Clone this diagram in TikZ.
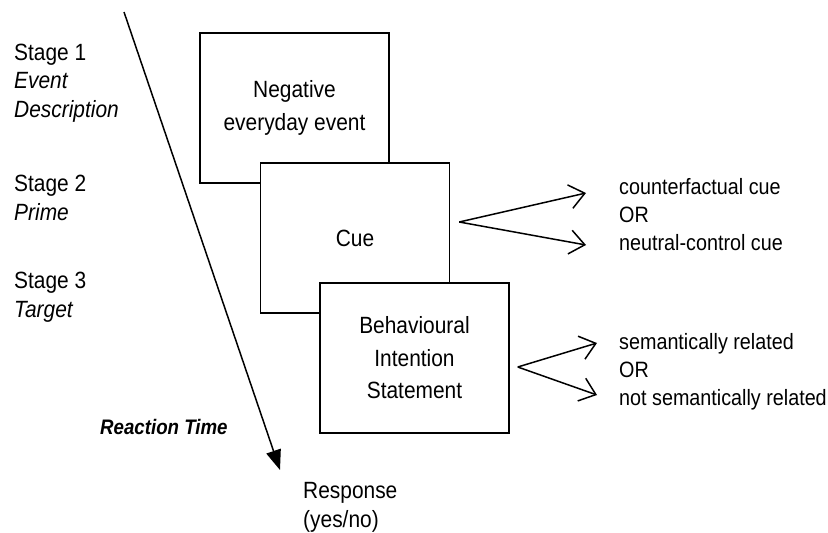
\documentclass[tikz,border=0pt]{standalone}
\usepackage{fontspec}
\setmainfont[FakeStretch=0.89]{Liberation Sans}
\usetikzlibrary{arrows.meta}
\begin{document}
\begin{tikzpicture}[x=1pt,y=-1pt]
      \useasboundingbox (0,0) rectangle (828,533);
      \coordinate (origo) at (0,0);

      \tikzstyle{stagebox} = [
        rectangle,
        draw=black,
        line width=1.5pt,
        fill=white,
        align=center,
        minimum width=189pt,
        minimum height=150pt,
        font=\fontsize{23.5}{32.5}\selectfont
      ]
      \tikzstyle{stagelabel} = [
        draw=none,
        anchor=base west,
        align=left,
        inner sep=0pt,
        font=\fontsize{23.5}{28.5}\selectfont
      ]
      \tikzstyle{choicelabel} = [
        draw=none,
        anchor=west,
        align=left,
        inner sep=0pt,
        font=\fontsize{22.2}{28}\selectfont
      ]

      \tikzstyle{timearrow} = [line width=1.5pt,-{Triangle[length=20pt,width=15pt]}]
      \tikzstyle{forkarrow} = [line width=1.5pt,-{Straight Barb[length=15pt,width=24pt,line width=1.5pt]}]

      % stages
      \node[stagelabel] (stage1) at (14,117) {Stage 1\\\textit{Event}\\\textit{Description}};
      \node[stagelabel] (stage2) at (14,220) {Stage 2\\\textit{Prime}};
      \node[stagelabel] (stage3) at (14,317) {Stage 3\\\textit{Target}};

      % boxes
      \node[stagebox] (eventBox) at (294.5,108) {Negative\\everyday event};
      \node[stagebox] (cueBox) at (355,238) {Cue};
      \node[stagebox] (targetBox) at (414.5,358) {Behavioural\\Intention\\Statement};

      % time
      \coordinate (timeStart) at (124,12);
      \coordinate (timeEnd) at (280,470);
      \draw[timearrow] (timeStart) -- (timeEnd);
      \node[draw=none,anchor=west,inner sep=0pt,font=\fontsize{21}{25}\selectfont\bfseries\itshape] (rtLabel) at (100,427) {Reaction Time};
      \node[draw=none,anchor=west,align=left,inner sep=0pt,font=\fontsize{23.5}{29}\selectfont] (response) at (303,507) {Response\\(yes/no)};

      % cue fork
      \coordinate (cueFork) at ([xshift=9pt,yshift=16pt] cueBox.east);
      \coordinate (cueUp) at (586,193);
      \coordinate (cueDown) at (586,245);
      \draw[forkarrow] (cueFork) -- (cueUp);
      \draw[forkarrow] (cueFork) -- (cueDown);
      \node[choicelabel] (cueChoice) at (619,215) {counterfactual cue\\OR\\neutral-control cue};

      % target fork
      \coordinate (targetFork) at ([xshift=8pt,yshift=-9pt] targetBox.east);
      \coordinate (targetUp) at (597,343);
      \coordinate (targetDown) at (597,395);
      \draw[forkarrow] (targetFork) -- (targetUp);
      \draw[forkarrow] (targetFork) -- (targetDown);
      \node[choicelabel] (targetChoice) at (619,372) {semantically related\\OR\\not semantically related};
    \end{tikzpicture}
\end{document}
